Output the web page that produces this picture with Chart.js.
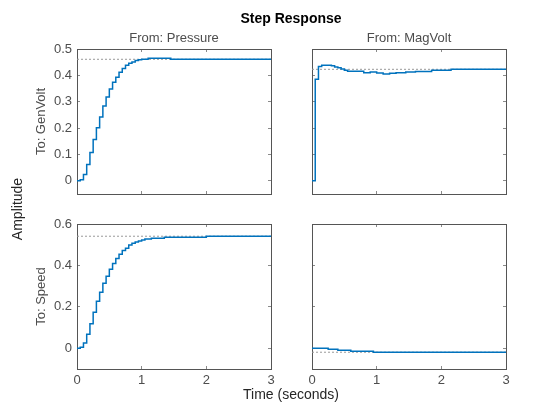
<!DOCTYPE html>
<html>
<head>
<meta charset="utf-8">
<script src="https://cdn.jsdelivr.net/npm/chart.js@4.4.1/dist/chart.umd.min.js"></script>
<style>
html,body{margin:0;padding:0;background:#fff;}
#wrap{position:relative;width:560px;height:420px;overflow:hidden;background:#fff;}
#wrap canvas{position:absolute;left:0;top:0;}
</style>
</head>
<body>
<div id="wrap">
<canvas id="c1" width="560" height="420"></canvas>
<canvas id="c2" width="560" height="420"></canvas>
<canvas id="c3" width="560" height="420"></canvas>
<canvas id="c4" width="560" height="420"></canvas>
</div>
<script>
// ---------- data ----------
const chartTitle = 'Step Response';
const inputLabels = ['From: Pressure', 'From: MagVolt'];
const outputLabels = ['To: GenVolt', 'To: Speed'];
const xAxisLabel = 'Time (seconds)';
const yAxisLabel = 'Amplitude';

const xTicks = [0, 1, 2, 3];
const yTicksTop = [0, 0.1, 0.2, 0.3, 0.4, 0.5];
const yTicksBottom = [0, 0.2, 0.4, 0.6];

// GenVolt <- Pressure
const tGenPress = [0,0.05,0.1,0.15,0.2,0.25,0.3,0.35,0.4,0.45,0.5,0.55,0.6,0.65,0.7,0.75,0.8,0.85,0.9,0.95,1.0,1.1,1.45,3];
const yGenPress = [0,0.004,0.024,0.062,0.107,0.157,0.201,0.242,0.284,0.318,0.348,0.374,0.393,0.412,0.426,0.438,0.446,0.451,0.456,0.459,0.461,0.465,0.461,0.461];
const ssGenPress = 0.461;

// GenVolt <- MagVolt
const tGenMag = [0,0.05,0.1,0.15,0.3,0.35,0.4,0.45,0.5,0.55,0.8,0.9,1.0,1.1,1.2,1.3,1.45,1.6,1.85,2.15,3];
const yGenMag = [0,0.385,0.434,0.438,0.436,0.432,0.429,0.424,0.419,0.416,0.410,0.413,0.409,0.405,0.408,0.410,0.413,0.415,0.419,0.423,0.423];
const ssGenMag = 0.423;

// Speed <- Pressure
const tSpdPress = [0,0.05,0.1,0.15,0.2,0.25,0.3,0.35,0.4,0.45,0.5,0.55,0.6,0.65,0.7,0.75,0.8,0.85,0.9,0.95,1.0,1.05,1.15,1.35,2.0,3];
const ySpdPress = [0,0.005,0.026,0.068,0.119,0.174,0.227,0.270,0.314,0.348,0.382,0.409,0.433,0.454,0.472,0.483,0.499,0.507,0.513,0.518,0.523,0.528,0.531,0.536,0.541,0.541];
const ssSpdPress = 0.541;

// Speed <- MagVolt
const tSpdMag = [0,0.25,0.4,0.6,0.95,3];
const ySpdMag = [0,-0.005,-0.010,-0.0145,-0.019,-0.019];
const ssSpdMag = -0.019;

const xRange = [0, 3];
const yRangeTop = [-0.05, 0.5];
const yRangeBottom = [-0.1, 0.6];

// ---------- styling / layout ----------
const FONT = '"Liberation Sans", Arial, Helvetica, sans-serif';
Chart.defaults.font.family = FONT;
Chart.defaults.font.size = 13;
Chart.defaults.color = '#4d4d4d';

const W = 560, H = 420;
const WY = 40, HX = 25;
const colL = [77, 271], colR = [312, 506];
const rowT = [49, 194], rowB = [224, 369];

function tickSetter(arr) {
  return function (scale) { scale.ticks = arr.map(v => ({ value: v })); };
}

function axis(pos, range, tickArr, showLabels, size) {
  const horiz = pos === 'top' || pos === 'bottom';
  return {
    type: 'linear',
    axis: horiz ? 'x' : 'y',
    position: pos,
    min: range[0],
    max: range[1],
    afterBuildTicks: tickSetter(tickArr),
    afterFit: function (s) { if (horiz) { s.height = size; } else { s.width = size; } },
    ticks: {
      display: showLabels,
      padding: horiz ? 7 : 8,
      color: '#4d4d4d',
      font: { size: 13, family: FONT },
      maxRotation: 0,
      autoSkip: false,
      callback: function (v) { return String(v); }
    },
    grid: {
      display: true,
      drawOnChartArea: false,
      drawTicks: true,
      tickLength: -3,
      color: '#8a8a8a',
      lineWidth: 1
    },
    border: { display: true, color: '#555555', width: 1 }
  };
}

const textPlugin = {
  id: 'figText',
  afterDraw(chart) {
    const ctx = chart.ctx;
    ctx.save();
    ctx.textAlign = 'center';
    ctx.textBaseline = 'middle';
    ctx.fillStyle = '#000000';
    ctx.font = 'bold 14px ' + FONT;
    ctx.fillText(chartTitle, 291, 19);
    ctx.fillStyle = '#4d4d4d';
    ctx.font = '13px ' + FONT;
    ctx.fillText(inputLabels[0], (colL[0] + colL[1]) / 2, 38);
    ctx.fillText(inputLabels[1], (colR[0] + colR[1]) / 2, 38);
    ctx.save();
    ctx.translate(41.5, (rowT[0] + rowT[1]) / 2);
    ctx.rotate(-Math.PI / 2);
    ctx.fillText(outputLabels[0], 0, 0);
    ctx.restore();
    ctx.save();
    ctx.translate(41.5, (rowB[0] + rowB[1]) / 2);
    ctx.rotate(-Math.PI / 2);
    ctx.fillText(outputLabels[1], 0, 0);
    ctx.restore();
    ctx.fillStyle = '#262626';
    ctx.font = '14px ' + FONT;
    ctx.fillText(xAxisLabel, 291, 395);
    ctx.save();
    ctx.translate(18, 209);
    ctx.rotate(-Math.PI / 2);
    ctx.fillText(yAxisLabel, 0, 0);
    ctx.restore();
    ctx.restore();
  }
};

function makePanel(id, t, y, ss, col, row, yRange, yTicks, showX, showY, extraPlugins) {
  const pts = t.map((tv, i) => ({ x: tv, y: y[i] }));
  const ssPts = [{ x: xRange[0], y: ss }, { x: xRange[1], y: ss }];
  return new Chart(document.getElementById(id), {
    type: 'line',
    data: {
      datasets: [
        { data: pts, xAxisID: 'x', yAxisID: 'y', stepped: true, borderColor: '#0072BD', borderWidth: 1.5, pointRadius: 0, fill: false },
        { data: ssPts, xAxisID: 'x', yAxisID: 'y', borderColor: '#9a9a9a', borderWidth: 1, borderDash: [2, 2], pointRadius: 0, fill: false }
      ]
    },
    options: {
      responsive: false,
      animation: false,
      events: [],
      layout: { padding: { left: col[0] - WY, right: W - col[1], top: row[0], bottom: H - row[1] - HX } },
      plugins: { legend: { display: false }, tooltip: { enabled: false }, title: { display: false } },
      scales: {
        x: axis('bottom', xRange, xTicks, showX, HX),
        x2: axis('top', xRange, xTicks, false, 0),
        y: axis('left', yRange, yTicks, showY, WY),
        y2: axis('right', yRange, yTicks, false, 0)
      }
    },
    plugins: extraPlugins || []
  });
}

makePanel('c1', tGenPress, yGenPress, ssGenPress, colL, rowT, yRangeTop, yTicksTop, false, true);
makePanel('c2', tGenMag, yGenMag, ssGenMag, colR, rowT, yRangeTop, yTicksTop, false, false);
makePanel('c3', tSpdPress, ySpdPress, ssSpdPress, colL, rowB, yRangeBottom, yTicksBottom, true, true);
makePanel('c4', tSpdMag, ySpdMag, ssSpdMag, colR, rowB, yRangeBottom, yTicksBottom, true, false, [textPlugin]);
</script>
</body>
</html>
